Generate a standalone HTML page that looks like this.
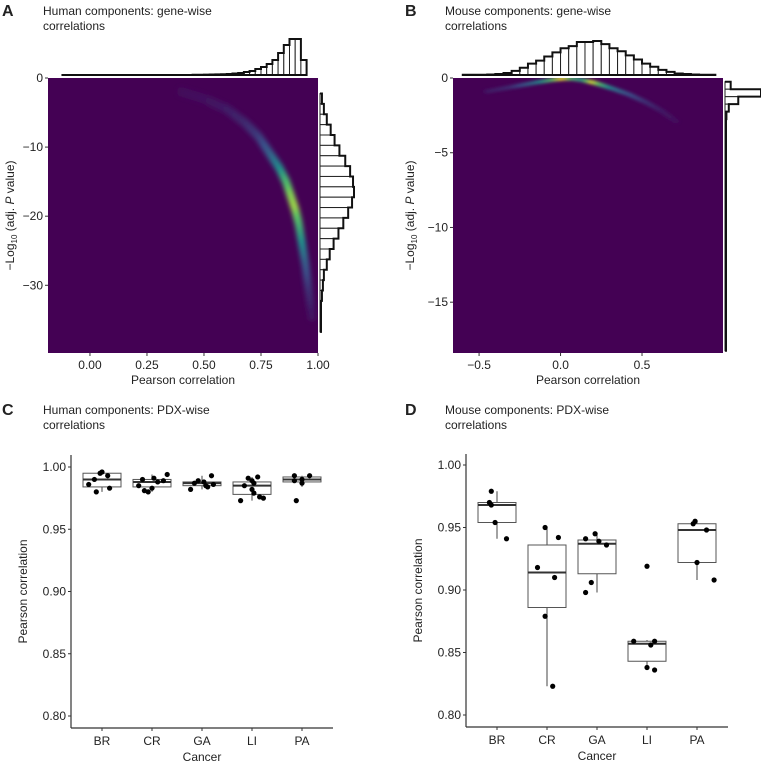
<!DOCTYPE html>
<html><head><meta charset="utf-8"><style>
html,body{margin:0;padding:0;background:#fff;}
svg{display:block;font-family:"Liberation Sans",Arial,sans-serif;}
text{fill:#222;}
</style></head><body>
<svg id="fig" width="761" height="770" viewBox="0 0 761 770">
<defs>
<filter id="blurA" x="-50%" y="-50%" width="200%" height="200%"><feGaussianBlur stdDeviation="2.5"/></filter>
<filter id="blurB" x="-50%" y="-50%" width="200%" height="200%"><feGaussianBlur stdDeviation="1.6"/></filter>
<clipPath id="clipA"><rect x="48" y="78" width="270" height="275"/></clipPath>
<clipPath id="clipB"><rect x="453" y="78" width="270" height="275"/></clipPath>
</defs>
<g>
<text x="2" y="16" font-size="16" font-weight="bold">A</text>
<text x="43" y="15" font-size="12">Human components: gene-wise</text>
<text x="43" y="30" font-size="12">correlations</text>
<text x="405" y="16" font-size="16" font-weight="bold">B</text>
<text x="445" y="15" font-size="12">Mouse components: gene-wise</text>
<text x="445" y="30" font-size="12">correlations</text>
<text x="2" y="415" font-size="16" font-weight="bold">C</text>
<text x="43" y="414" font-size="12">Human components: PDX-wise</text>
<text x="43" y="429" font-size="12">correlations</text>
<text x="405" y="415" font-size="16" font-weight="bold">D</text>
<text x="445" y="414" font-size="12">Mouse components: PDX-wise</text>
<text x="445" y="429" font-size="12">correlations</text>
</g>
</svg>
<script>
// ---------- Panel A data ----------
const aXTicks = [0, 0.25, 0.5, 0.75, 1.0];
const aXTickLabels = ["0.00","0.25","0.50","0.75","1.00"];
const aYTicks = [0, -10, -20, -30];
const aCurveX = [0.40,0.50,0.60,0.68,0.74,0.79,0.83,0.86,0.88,0.90,0.915,0.93,0.945,0.96,0.975];
const aCurveY = [-2,-3,-4.5,-6.5,-8.5,-11,-13,-15,-17,-19,-21,-24,-27,-31,-35];
const aCurveI = [0.03,0.05,0.08,0.12,0.18,0.3,0.45,0.65,0.8,0.85,0.7,0.5,0.3,0.15,0.05];
const aTopBins = [-0.125,-0.1,-0.075,-0.05,-0.025,0,0.025,0.05,0.075,0.1,0.125,0.15,0.175,0.2,0.225,0.25,0.275,0.3,0.325,0.35,0.375,0.4,0.425,0.45,0.475,0.5,0.525,0.55,0.575,0.6,0.625,0.65,0.675,0.7,0.725,0.75,0.775,0.8,0.825,0.85,0.875,0.9,0.925];
const aTopCounts = [0,0,0,0,0,0,0,0,0,0,0,0,0,0,0,0,0,0,0,0,0,0,0,0.2,0.3,0.4,0.5,0.6,0.8,1,1.5,2,3,4,6,8,11,15,22,30,36,36,15];
const aRightBins = [-3,-4.5,-6,-7.5,-9,-10.5,-12,-13.5,-15,-16.5,-18,-19.5,-21,-22.5,-24,-25.5,-27,-28.5,-30,-31.5,-33,-34.5,-36];
const aRightCounts = [2,4,7,11,15,20,26,31,34,35,33,29,24,19,14,10,7,4,3,2,1,0.5,0.3];
// ---------- Panel B data ----------
const bXTicks = [-0.5, 0, 0.5];
const bXTickLabels = ["\u22120.5","0.0","0.5"];
const bYTicks = [0,-5,-10,-15];
const bCurveX = [-0.45,-0.3,-0.15,-0.05,0.02,0.08,0.14,0.2,0.26,0.33,0.42,0.52,0.62,0.72];
const bCurveY = [-0.9,-0.6,-0.3,-0.12,-0.03,-0.05,-0.15,-0.3,-0.5,-0.75,-1.1,-1.6,-2.2,-3];
const bCurveI = [0.08,0.15,0.4,0.7,1.0,0.7,0.55,0.95,0.65,0.4,0.25,0.15,0.08,0.04];
const bTopBins = [-0.6,-0.55,-0.5,-0.45,-0.4,-0.35,-0.3,-0.25,-0.2,-0.15,-0.1,-0.05,0,0.05,0.1,0.15,0.2,0.25,0.3,0.35,0.4,0.45,0.5,0.55,0.6,0.65,0.7,0.75,0.8,0.85,0.9];
const bTopCounts = [0.3,0.3,0.3,0.5,1,2,4,7,11,14,18,22,26,28,32,32,33,30,26,23,19,15,11,8,5,3,1.5,1,0.5,0.3,0.3];
const bRightBins = [-0.5,-1,-1.5,-2,-2.5,-3,-4,-6,-8,-10,-12,-14,-16,-18];
const bRightCounts = [6,38,14,4,1.5,1,0.5,0.3,0.3,0.3,0.3,0.3,0.3,0.3];
// ---------- Panel C data ----------
const categories = ["BR","CR","GA","LI","PA"];
const boxTicks = [0.80,0.85,0.90,0.95,1.00];
const boxTickLabels = ["0.80","0.85","0.90","0.95","1.00"];
const cQ1 = [0.984,0.984,0.985,0.978,0.988];
const cMed = [0.990,0.988,0.987,0.985,0.990];
const cQ3 = [0.995,0.990,0.988,0.988,0.992];
const cLo = [0.980,0.980,0.982,0.973,0.984];
const cHi = [0.997,0.994,0.993,0.992,0.993];
const cPoints = [
 [0.996,0.995,0.993,0.990,0.986,0.983,0.980],
 [0.994,0.991,0.990,0.989,0.988,0.985,0.983,0.981,0.980],
 [0.993,0.989,0.988,0.987,0.986,0.985,0.984,0.982],
 [0.992,0.991,0.989,0.987,0.985,0.982,0.979,0.976,0.975,0.973],
 [0.993,0.993,0.990,0.989,0.987,0.973]];
const cJitter = [
 [0.0,-0.05,0.15,-0.2,-0.35,0.2,-0.15],
 [0.4,0.05,-0.25,0.3,0.15,-0.35,0.0,-0.2,-0.1],
 [0.25,-0.1,0.05,-0.2,0.3,0.1,0.15,-0.3],
 [0.15,-0.1,0.0,0.05,-0.2,0.0,0.05,0.2,0.3,-0.3],
 [-0.2,0.2,0.0,-0.2,0.0,-0.15]];
// ---------- Panel D data ----------
const dQ1 = [0.954,0.886,0.913,0.843,0.922];
const dMed = [0.968,0.914,0.937,0.857,0.948];
const dQ3 = [0.970,0.936,0.940,0.859,0.953];
const dLo = [0.941,0.823,0.898,0.838,0.908];
const dHi = [0.979,0.950,0.945,0.860,0.955];
const dPoints = [
 [0.979,0.970,0.968,0.954,0.941],
 [0.950,0.942,0.918,0.910,0.879,0.823],
 [0.945,0.941,0.939,0.936,0.906,0.898],
 [0.919,0.859,0.859,0.856,0.838,0.836],
 [0.955,0.953,0.948,0.922,0.908]];
const dJitter = [
 [-0.15,-0.2,-0.15,-0.05,0.25],
 [-0.05,0.3,-0.25,0.2,-0.05,0.15],
 [-0.05,-0.3,0.05,0.25,-0.15,-0.3],
 [0.0,-0.35,0.2,0.1,0.0,0.2],
 [-0.05,-0.1,0.25,0.0,0.45]];

const NS="http://www.w3.org/2000/svg";
const svg=document.getElementById('fig');
function el(tag,attrs,parent){const e=document.createElementNS(NS,tag);for(const k in attrs)e.setAttribute(k,attrs[k]);(parent||svg).appendChild(e);return e;}
function lin(d0,d1,r0,r1){return v=>r0+(v-d0)*(r1-r0)/(d1-d0);}
const vir=[[68,1,84],[59,82,139],[33,145,140],[94,201,98],[253,231,37]];
function viridis(t){t=Math.max(0,Math.min(1,t));const p=t*4,i=Math.min(3,Math.floor(p)),f=p-i;const a=vir[i],b=vir[i+1];return `rgb(${Math.round(a[0]+(b[0]-a[0])*f)},${Math.round(a[1]+(b[1]-a[1])*f)},${Math.round(a[2]+(b[2]-a[2])*f)})`;}

function densityPanel(o){
  const x=lin(o.xmin,o.xmax,o.L,o.R), y=lin(0,o.ymin,o.T,o.B);
  const g=el('g',{});
  
  
  const bg=el('rect',{x:o.L,y:o.T,width:o.R-o.L,height:o.B-o.T,fill:'#440154'},g);
  
  
  const hg=el('g',{'clip-path':o.clip,filter:o.filter},g);
  
  
  for(let i=0;i<o.cx.length-1;i++){
    const n=8;
    for(let k=0;k<n;k++){
      const f=k/n;
      const vx=o.cx[i]+(o.cx[i+1]-o.cx[i])*f, vy=o.cy[i]+(o.cy[i+1]-o.cy[i])*f, vi=o.ci[i]+(o.ci[i+1]-o.ci[i])*f;
      const c=el('ellipse',{cx:x(vx),cy:y(vy),rx:o.rx,ry:o.ry,fill:viridis(vi),opacity:0.9},hg);
      
      
    }
  }
  o.xt.forEach((t,i)=>{
    el('line',{x1:x(t),x2:x(t),y1:o.B,y2:o.B+3,stroke:'#333'},g);
    const tx=el('text',{x:x(t),y:o.B+16,'font-size':12,'text-anchor':'middle'},g);tx.textContent=o.xl[i];
    
    
  });
  o.yt.forEach(t=>{
    el('line',{x1:o.L-3,x2:o.L,y1:y(t),y2:y(t),stroke:'#333'},g);
    const tx=el('text',{x:o.L-5,y:y(t)+4,'font-size':12,'text-anchor':'end'},g);tx.textContent=t<0?'\u2212'+(-t):String(t);
    
    
  });
  const xt=el('text',{x:(o.L+o.R)/2,y:o.B+31,'font-size':12,'text-anchor':'middle'},g);xt.textContent='Pearson correlation';
  
  
  const yt=el('text',{transform:`translate(${o.yTitleX},${(o.T+o.B)/2}) rotate(-90)`,'font-size':12,'text-anchor':'middle'},g);
  yt.innerHTML='\u2212Log<tspan font-size="8" dy="3">10</tspan><tspan dy="-3"> (adj. </tspan><tspan font-style="italic">P</tspan> value)';
  
  
  const hs=o.topH/Math.max(...o.tc); const bw=o.tb[1]-o.tb[0];
  let d=`M${x(o.tb[0])},${o.T-3}`;
  o.tb.forEach((b,i)=>{const h=o.T-3-o.tc[i]*hs;d+=` L${x(b)},${h} L${x(b+bw)},${h}`;
    const r=el('rect',{x:x(b),y:h,width:x(b+bw)-x(b),height:o.tc[i]*hs,fill:'#fff',stroke:'#222','stroke-width':1},g);
    
    });
  d+=` L${x(o.tb[o.tb.length-1]+bw)},${o.T-3} Z`;
  const tp=el('path',{d:d,fill:'none',stroke:'#111','stroke-width':2},g);
  
  
  const rs=o.rightW/Math.max(...o.rc); const rbw=o.rb[0]-o.rb[1];
  let d2=`M${o.R+2},${y(o.rb[0]+rbw/2)}`;
  o.rb.forEach((b,i)=>{const w=Math.max(1,o.rc[i]*rs);
    const yt0=y(b+rbw/2), yb=y(i<o.rb.length-1?o.rb[i+1]+rbw/2:b-rbw/2);
    const r=el('rect',{x:o.R+2,y:yt0,width:w,height:yb-yt0,fill:'#fff',stroke:'#222','stroke-width':1},g);
    
    
    d2+=` L${o.R+2+w},${yt0} L${o.R+2+w},${yb}`;});
  const rp=el('path',{d:d2+` L${o.R+2},${y(o.rb[o.rb.length-1]-rbw/2)}`,fill:'none',stroke:'#111','stroke-width':2},g);
  
  
}
densityPanel({name:'panel-a',L:48,R:318,T:78,B:353,xmin:-0.184,xmax:1.0,ymin:-39.8,xt:aXTicks,xl:aXTickLabels,yt:aYTicks,
  cx:aCurveX,cy:aCurveY,ci:aCurveI,rx:4,ry:5,clip:'url(#clipA)',filter:'url(#blurA)',yTitleX:14,
  tb:aTopBins,tc:aTopCounts,topH:36,rb:aRightBins,rc:aRightCounts,rightW:34});
densityPanel({name:'panel-b',L:453,R:723,T:78,B:353,xmin:-0.66,xmax:0.997,ymin:-18.4,xt:bXTicks,xl:bXTickLabels,yt:bYTicks,
  cx:bCurveX,cy:bCurveY,ci:bCurveI,rx:4,ry:1.8,clip:'url(#clipB)',filter:'url(#blurB)',yTitleX:414,
  tb:bTopBins,tc:bTopCounts,topH:34,rb:bRightBins,rc:bRightCounts,rightW:36});

function boxPanel(o){
  const y=lin(0.80,1.00,o.y80,o.y100);
  const x=i=>o.x0+i*50;
  const g=el('g',{});
  
  
  el('line',{x1:o.L,x2:o.L,y1:o.T,y2:o.B,stroke:'#333','stroke-width':1.2},g);
  el('line',{x1:o.L,x2:o.R,y1:o.B,y2:o.B,stroke:'#333','stroke-width':1.2},g);
  boxTicks.forEach((t,i)=>{el('line',{x1:o.L-3,x2:o.L,y1:y(t),y2:y(t),stroke:'#333'},g);
    const tx=el('text',{x:o.L-5,y:y(t)+4,'font-size':12,'text-anchor':'end'},g);tx.textContent=boxTickLabels[i];
    
    });
  categories.forEach((c,i)=>{
    el('line',{x1:x(i),x2:x(i),y1:o.B,y2:o.B+3,stroke:'#333'},g);
    const tx=el('text',{x:x(i),y:o.B+17,'font-size':12,'text-anchor':'middle'},g);tx.textContent=c;
    
    
    const w=el('line',{x1:x(i),x2:x(i),y1:y(o.lo[i]),y2:y(o.hi[i]),stroke:'#444'},g);
    
    
    const b=el('rect',{x:x(i)-19,y:y(o.q3[i]),width:38,height:Math.max(1,y(o.q1[i])-y(o.q3[i])),fill:'#fff',stroke:'#555','stroke-width':1},g);
    
    
    const m=el('line',{x1:x(i)-19,x2:x(i)+19,y1:y(o.med[i]),y2:y(o.med[i]),stroke:'#333','stroke-width':2},g);
    
    
    o.pts[i].forEach((v,k)=>{const p=el('circle',{cx:x(i)+o.jit[i][k]*38,cy:y(v),r:2.6,fill:'#000'},g);
      
      });
  });
  const xt=el('text',{x:(o.L+o.R)/2,y:o.B+33,'font-size':12,'text-anchor':'middle'},g);xt.textContent='Cancer';
  
  
  const yt=el('text',{transform:`translate(${o.yTitleX},${(o.T+o.B)/2}) rotate(-90)`,'font-size':12,'text-anchor':'middle'},g);yt.textContent='Pearson correlation';
  
  
}
boxPanel({name:'panel-c',L:71,R:333,T:455,B:728,y80:716,y100:467,x0:102,yTitleX:27,q1:cQ1,med:cMed,q3:cQ3,lo:cLo,hi:cHi,pts:cPoints,jit:cJitter});
boxPanel({name:'panel-d',L:466,R:728,T:454,B:727,y80:715,y100:465,x0:497,yTitleX:422,q1:dQ1,med:dMed,q3:dQ3,lo:dLo,hi:dHi,pts:dPoints,jit:dJitter});
</script>
</body></html>
